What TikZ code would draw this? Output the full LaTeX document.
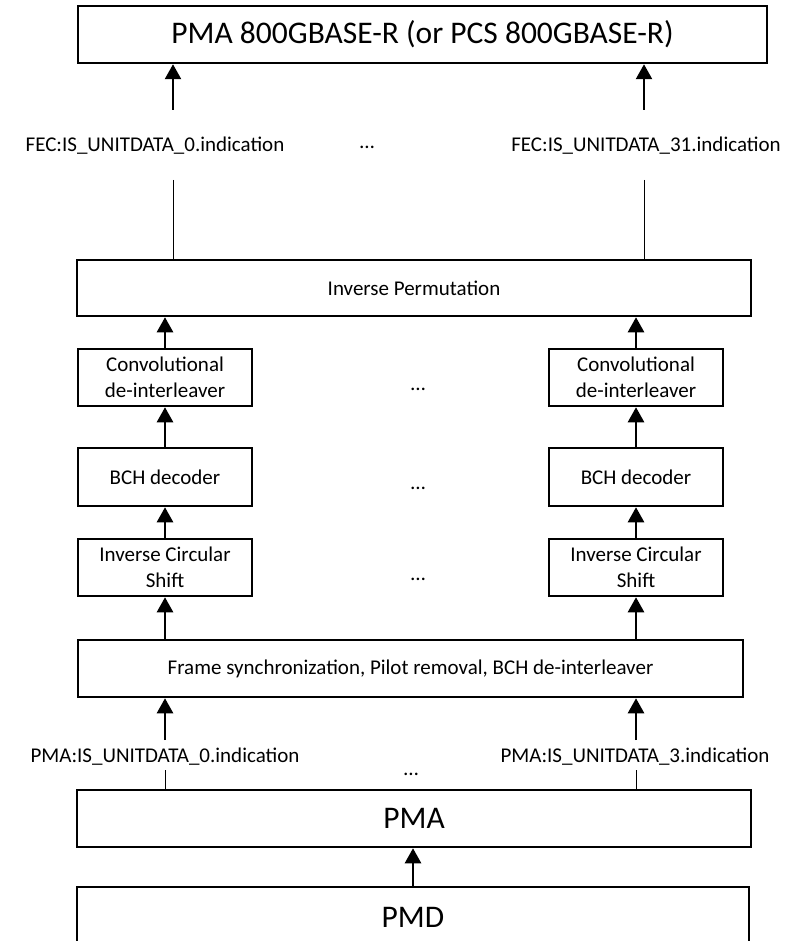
\documentclass[tikz,border=0pt]{standalone}
\usepackage{fontspec}
\setmainfont{Carlito}
\usetikzlibrary{arrows.meta}
\begin{document}
\begin{tikzpicture}[x=1pt,y=-1pt,
  blk/.style={draw, line width=2.5pt, inner sep=0pt, align=center,
    font=\fontsize{21}{25.6}\selectfont},
  bigblk/.style={blk, font=\fontsize{31.5}{38}\selectfont},
  arr/.style={line width=2.5pt, -{Triangle[width=16pt,length=15pt]}},
  thinline/.style={line width=1pt},
  lbl/.style={font=\fontsize{21}{25.6}\selectfont, inner sep=0pt},
  dotsnode/.style={font=\fontsize{21}{25.6}\selectfont, inner sep=0pt, anchor=base}]
\useasboundingbox (0,0) rectangle (791,941);
\clip (0,0) rectangle (791,941);

% blocks
\node[bigblk, minimum width=689pt, minimum height=57pt] (top) at (422.5,34.5) {PMA 800GBASE-R (or PCS 800GBASE-R)};
\node[blk, minimum width=674pt, minimum height=56pt] (perm) at (414,288) {Inverse Permutation};
\node[blk, minimum width=174pt, minimum height=57pt] (convL) at (165,377.5) {Convolutional\\de-interleaver};
\node[blk, minimum width=174pt, minimum height=57pt] (convR) at (636,377.5) {Convolutional\\de-interleaver};
\node[blk, minimum width=174pt, minimum height=58pt] (bchL) at (165,477) {BCH decoder};
\node[blk, minimum width=174pt, minimum height=58pt] (bchR) at (636,477) {BCH decoder};
\node[blk, minimum width=174pt, minimum height=57pt] (icsL) at (165,567.5) {Inverse Circular\\Shift};
\node[blk, minimum width=174pt, minimum height=57pt] (icsR) at (636,567.5) {Inverse Circular\\Shift};
\node[blk, minimum width=665pt, minimum height=57pt] (frame) at (410.5,668.5) {Frame synchronization, Pilot removal, BCH de-interleaver};
\node[bigblk, minimum width=674pt, minimum height=57pt] (pma) at (414,818.5) {PMA};
\node[bigblk, minimum width=672pt, minimum height=60pt] (pmd) at (413,917) {PMD};

% service interface labels
\node[lbl] (fec0) at (155,146) {FEC:IS\_UNITDATA\_0.indication};
\node[lbl] (fec31) at (646,146) {FEC:IS\_UNITDATA\_31.indication};
\node[dotsnode] (fecdots) at (367,149) {…};
\node[lbl] (pma0) at (165,757) {PMA:IS\_UNITDATA\_0.indication};
\node[lbl] (pma3) at (635,757) {PMA:IS\_UNITDATA\_3.indication};
\node[dotsnode] (pmadots) at (411,775) {…};

% lane ellipses
\node[dotsnode] (d1) at (418,390) {…};
\node[dotsnode] (d2) at (418,489) {…};
\node[dotsnode] (d3) at (418,580) {…};

% connectors at the top
\coordinate (fa0) at (173,110);
\coordinate (fa31) at (644,110);
\coordinate (fb0) at (173,180);
\coordinate (fb31) at (644,180);
\draw[arr] (fa0) -- (fa0 |- top.south);
\draw[arr] (fa31) -- (fa31 |- top.south);
\draw[thinline] (fb0) -- (fb0 |- perm.north);
\draw[thinline] (fb31) -- (fb31 |- perm.north);

% lane arrows
\foreach \s in {L,R} {
  \draw[arr] (conv\s.north) -- (conv\s.north |- perm.south);
  \draw[arr] (bch\s.north) -- (conv\s.south);
  \draw[arr] (ics\s.north) -- (bch\s.south);
  \draw[arr] (ics\s.south |- frame.north) -- (ics\s.south);
}

% connectors at the bottom
\coordinate (pa0) at (165,740);
\coordinate (pa3) at (636,740);
\coordinate (pb0) at (165,770);
\coordinate (pb3) at (636,770);
\draw[arr] (pa0) -- (pa0 |- frame.south);
\draw[arr] (pa3) -- (pa3 |- frame.south);
\draw[thinline] (pb0) -- (pb0 |- pma.north);
\draw[thinline] (pb3) -- (pb3 |- pma.north);
\draw[arr] (pmd.north) -- (pmd.north |- pma.south);
\end{tikzpicture}
\end{document}
